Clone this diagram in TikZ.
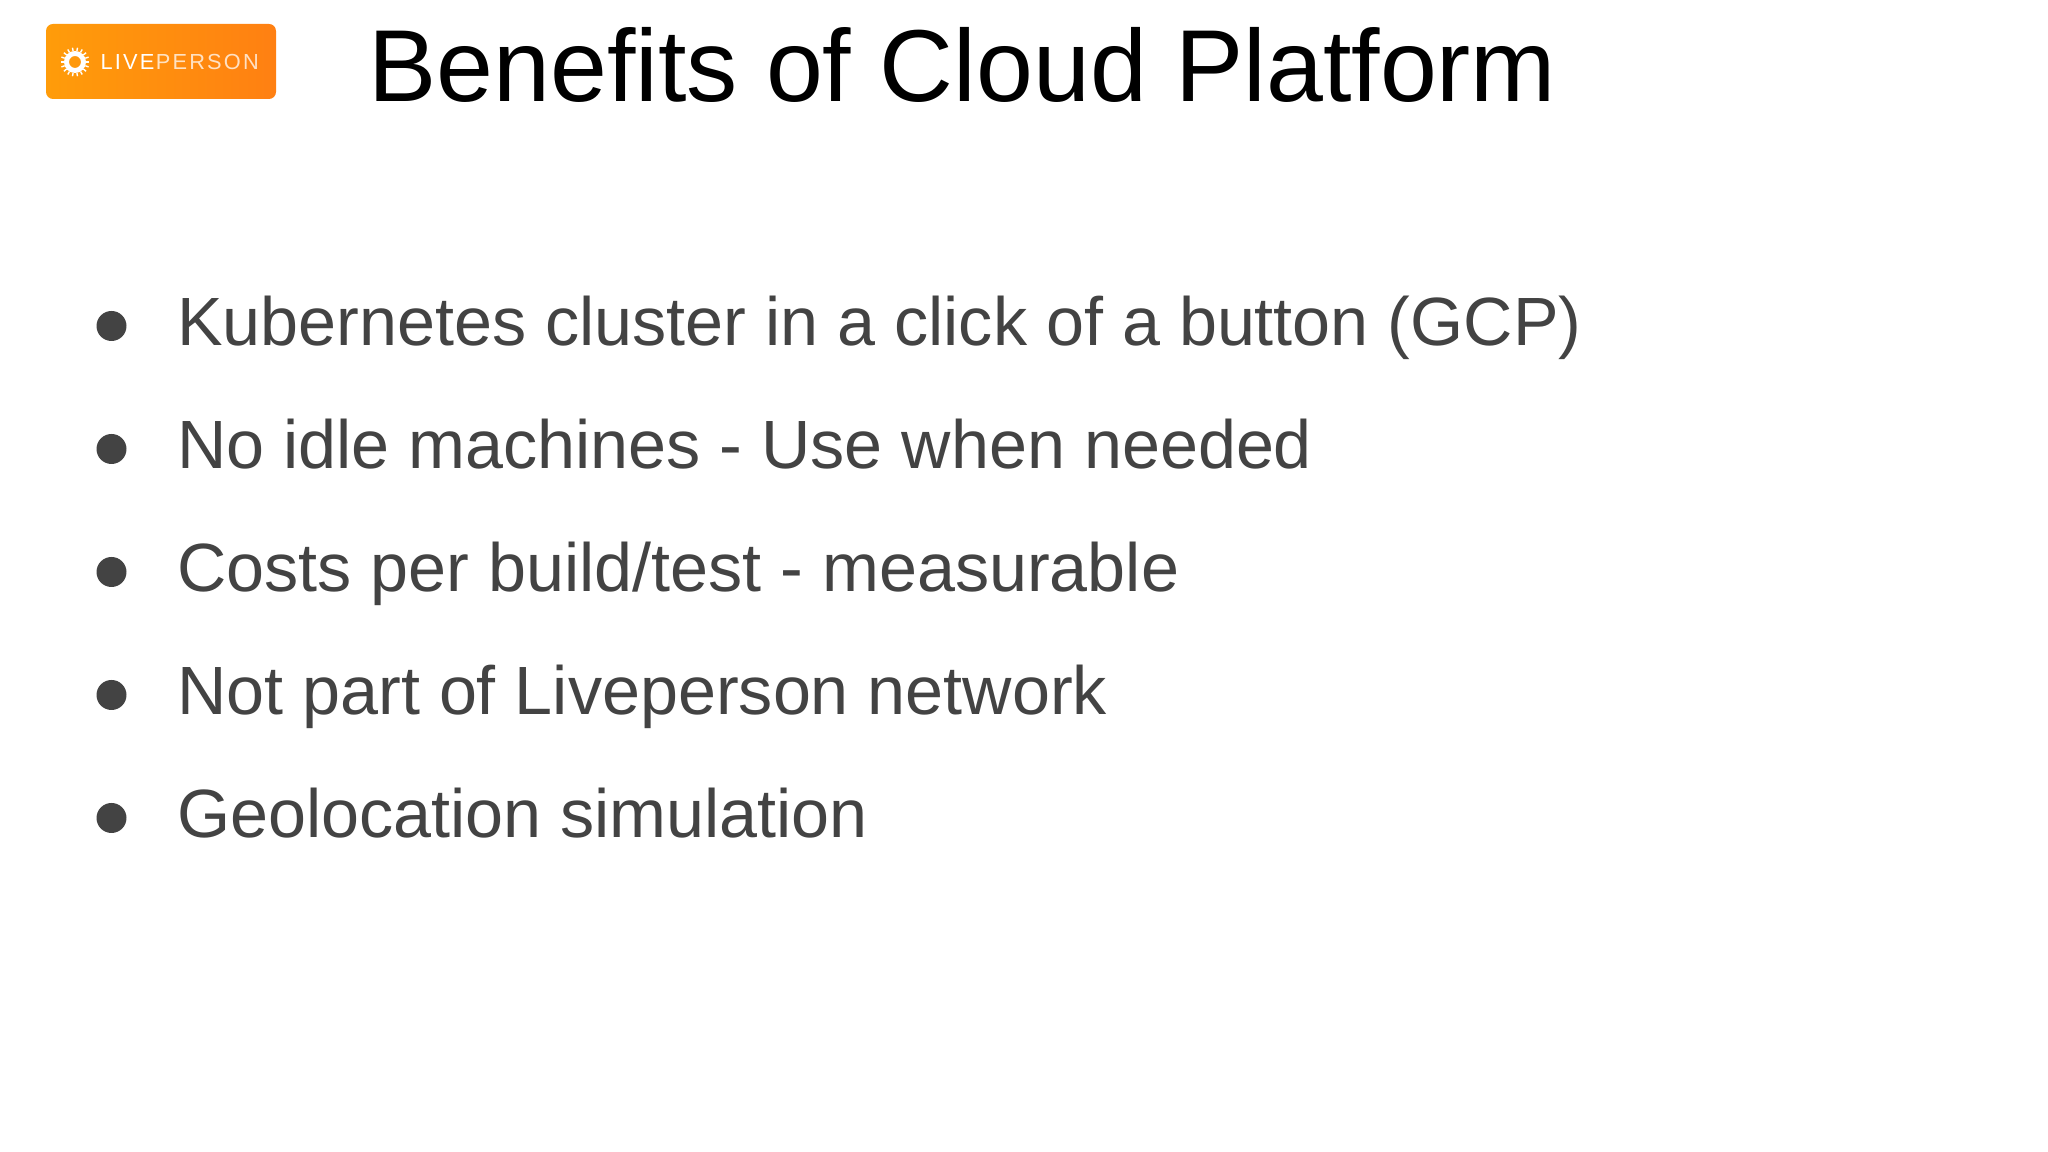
\documentclass[tikz,border=0pt]{standalone}
\usepackage{fontspec}
\setmainfont{Liberation Sans}
\newfontfamily\logofont[LetterSpace=10]{Liberation Sans}
\definecolor{bodygray}{HTML}{434343}
\definecolor{logoleft}{HTML}{FF9C0A}
\definecolor{logoright}{HTML}{FF8012}

\begin{document}
\begin{tikzpicture}[
  title node/.style={anchor=base west,inner sep=0pt,font=\fontsize{29.1}{35}\selectfont,text=black},
  item node/.style={anchor=base west,inner sep=0pt,font=\fontsize{19.43}{24}\selectfont,text=bodygray},
  dot node/.style={circle,fill=bodygray,inner sep=0pt,minimum size=0.3cm},
  logo text/.style={anchor=base west,inner sep=0pt,text=white,font=\logofont\fontsize{6.2}{8}\selectfont}]

  \useasboundingbox (0,0) rectangle (20.48,11.52);
  \fill[white] (0,0) rectangle (20.48,11.52);

  % logo
  \node[rounded corners=2pt,minimum width=2.3cm,minimum height=0.75cm,inner sep=0pt,
    left color=logoleft,right color=logoright] (logo) at (1.61,10.905) {};
  \node[circle,draw=white,line width=1.4pt,minimum size=0.17cm,inner sep=0pt] (sun) at (0.75,10.90) {};
  \foreach \a in {0,20,...,340}
    \draw[white,line width=0.4pt] (sun.\a) -- ++(\a:0.035);
  \node[logo text] (live) at (1.00,10.82) {LIVE};
  \node[logo text,opacity=0.75] (person) at (live.base east) {PERSON};

  % title
  \node[title node] (title) at (3.675,10.50) {Benefits of Cloud Platform};

  % bullets
  \node[dot node] (d1) at (1.115,8.26) {};
  \node[dot node] (d2) at (1.115,7.03) {};
  \node[dot node] (d3) at (1.115,5.80) {};
  \node[dot node] (d4) at (1.115,4.57) {};
  \node[dot node] (d5) at (1.115,3.34) {};

  \node[item node] (i1) at (1.765,8.06) {Kubernetes cluster in a click of a button (GCP)};
  \node[item node] (i2) at (1.765,6.83) {No idle machines - Use when needed};
  \node[item node] (i3) at (1.765,5.60) {Costs per build/test - measurable};
  \node[item node] (i4) at (1.765,4.37) {Not part of Liveperson network};
  \node[item node] (i5) at (1.765,3.14) {Geolocation simulation};
\end{tikzpicture}
\end{document}
